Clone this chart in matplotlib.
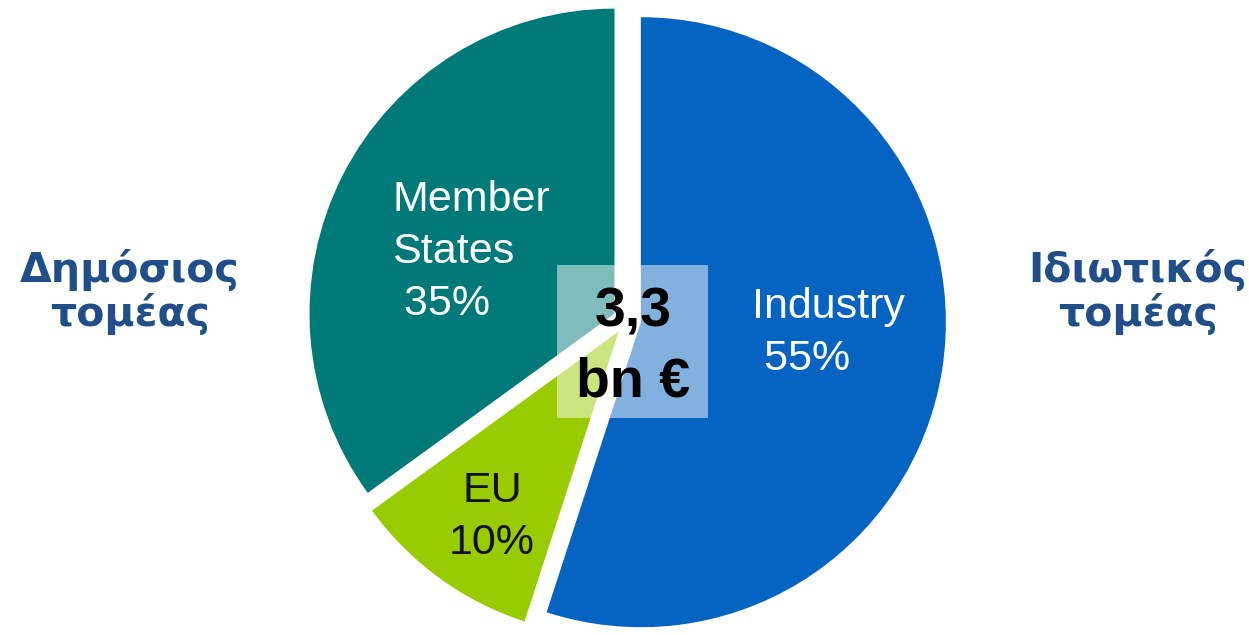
import matplotlib.pyplot as plt
from matplotlib.patches import Rectangle

# data
sectors = ["Industry", "EU", "Member\nStates"]
shares = [55, 10, 35]
colors = ["#0563C1", "#99CC00", "#007A78"]
label_colors = ["white", "#111111", "white"]
total_text = "3,3\nbn €"
side_labels = ["Δημόσιος\nτομέας", "Ιδιωτικός\nτομέας"]

fig = plt.figure(figsize=(12.49, 6.35), dpi=100)
ax = fig.add_axes([0, 0, 1, 1])

# pie centre at (627, 320) px, radius 305 px
R = 305.0
cx, cy = 627.0, 320.0

wedges, _ = ax.pie(shares, colors=colors, startangle=90, counterclock=False,
                   explode=[0.046] * 3, radius=1,
                   wedgeprops=dict(linewidth=0))

ax.set_xlim(-cx / R, (1249 - cx) / R)
ax.set_ylim(-(635 - cy) / R, cy / R)
ax.set_aspect("auto")
ax.axis("off")

# slice labels (position in px, horizontal alignment)
pos = [(752, 333, "left"), (492, 517, "center"), (392, 252, "left")]
for name, s, c, (px, py, ha) in zip(sectors, shares, label_colors, pos):
    pct = f"{s}%" if ha == "center" else f" {s}%"
    ax.text((px - cx) / R, (cy - py) / R, f"{name}\n{pct}", color=c,
            ha=ha, va="center", multialignment=ha, fontsize=31,
            linespacing=1.38, family=["Liberation Sans", "DejaVu Sans"])

# centre box with total
x0, x1 = (557 - cx) / R, (708 - cx) / R
y0, y1 = (cy - 418) / R, (cy - 265) / R
ax.add_patch(Rectangle((x0, y0), x1 - x0, y1 - y0, facecolor="white",
                       alpha=0.5, linewidth=0, zorder=3))
ax.text((633 - cx) / R, (cy - 348) / R, total_text, ha="center", va="center",
        fontsize=40, fontweight="bold", linespacing=1.45, color="black",
        family=["Liberation Sans", "DejaVu Sans"], zorder=4)

# side labels
fig.text(130 / 1249, 1 - 292 / 635, side_labels[0], ha="center", va="center",
         fontsize=29.5, fontweight="bold", color="#1F4E89", linespacing=1.07,
         family=["DejaVu Sans"])
fig.text(1138 / 1249, 1 - 292 / 635, side_labels[1], ha="center", va="center",
         fontsize=29.5, fontweight="bold", color="#1F4E89", linespacing=1.07,
         family=["DejaVu Sans"])

fig.savefig("out.png", dpi=100, facecolor="white")
